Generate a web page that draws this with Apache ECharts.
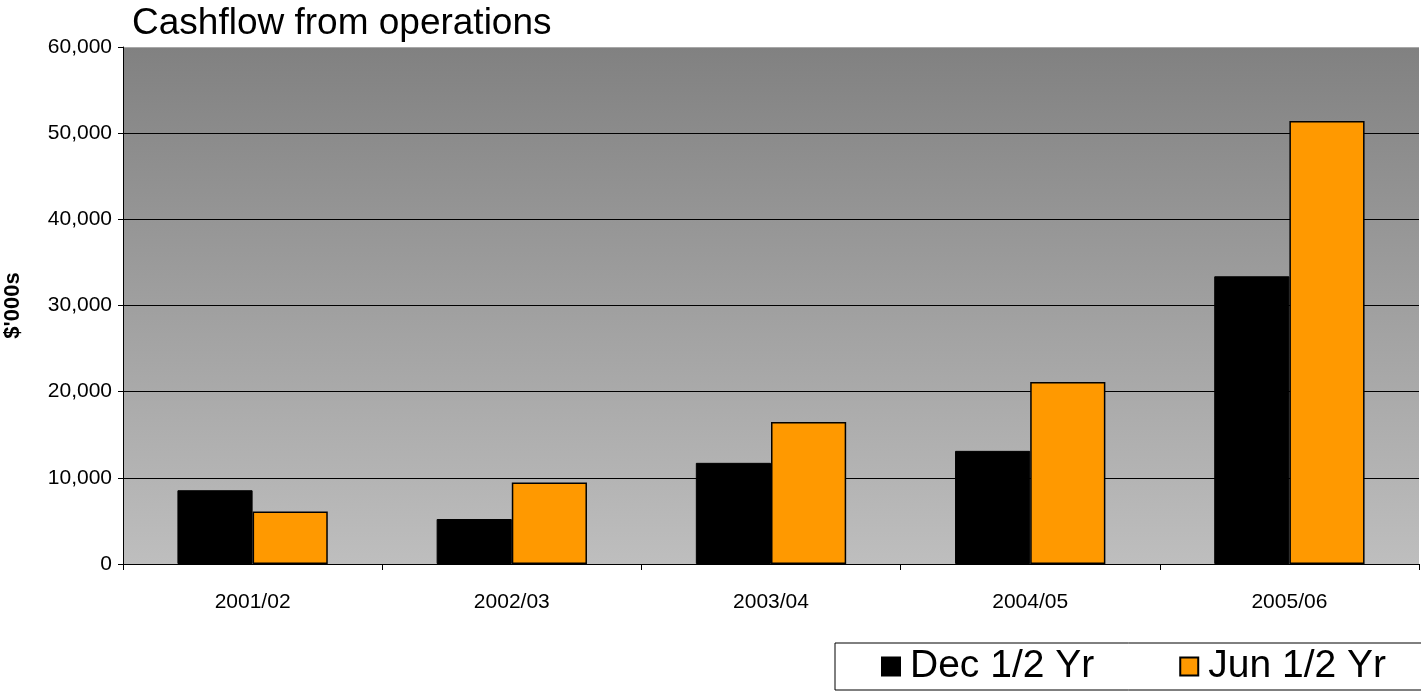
<!DOCTYPE html>
<html>
<head>
<meta charset="utf-8">
<script src="https://cdn.jsdelivr.net/npm/echarts@6/dist/echarts.min.js"></script>
<style>
  html, body { margin: 0; padding: 0; background: #fff; }
  #chart { width: 1421px; height: 693px; }
</style>
</head>
<body>
<div id="chart"></div>
<script>
// Half-year operating cashflow, $'000s
const categories = ['2001/02', '2002/03', '2003/04', '2004/05', '2005/06'];
const decHalf = [8560, 5220, 11740, 13130, 33390];
const junHalf = [6080, 9450, 16470, 21130, 51400];
const seriesNames = ['Dec 1/2 Yr', 'Jun 1/2 Yr'];
const yTicks = { min: 0, max: 60000, interval: 10000 };

const FONT = 'Liberation Sans, Arial, sans-serif';
const chart = echarts.init(document.getElementById('chart'));

chart.setOption({
  animation: false,
  backgroundColor: '#ffffff',
  title: {
    text: 'Cashflow from operations',
    left: 127,
    top: 0,
    textStyle: { fontFamily: FONT, fontSize: 37, fontWeight: 'normal', color: '#000' }
  },
  grid: {
    left: 123,
    right: 2,
    top: 47,
    bottom: 129,
    outerBoundsMode: 'none',
    show: true,
    borderWidth: 0,
    backgroundColor: {
      type: 'linear', x: 0, y: 0, x2: 0, y2: 1,
      colorStops: [
        { offset: 0, color: '#818181' },
        { offset: 1, color: '#bebebe' }
      ]
    }
  },
  legend: {
    left: 835,
    top: 643,
    width: 700,
    padding: [4, 80, 4, 46],
    borderColor: '#000',
    borderWidth: 1,
    itemWidth: 18,
    itemHeight: 18,
    itemGap: 85,
    icon: 'rect',
    textStyle: { fontFamily: FONT, fontSize: 39, color: '#000', padding: [0, 0, 0, 5] },
    data: seriesNames
  },
  xAxis: {
    type: 'category',
    data: categories,
    axisLine: { lineStyle: { color: '#000', width: 1 } },
    axisTick: { show: true, length: 6, lineStyle: { color: '#000' } },
    axisLabel: { fontFamily: FONT, fontSize: 21, color: '#000', margin: 28 }
  },
  yAxis: {
    type: 'value',
    min: yTicks.min,
    max: yTicks.max,
    interval: yTicks.interval,
    name: "$'000s",
    nameLocation: 'middle',
    nameGap: 99,
    nameTextStyle: { fontFamily: FONT, fontSize: 22, fontWeight: 'bold', color: '#000' },
    axisLine: { show: true, lineStyle: { color: '#000', width: 1 } },
    axisTick: { show: true, length: 5, lineStyle: { color: '#000' } },
    axisLabel: {
      fontFamily: FONT, fontSize: 21, color: '#000', margin: 11,
      formatter: v => v.toLocaleString('en-US')
    },
    splitLine: {
      show: true,
      lineStyle: { color: ['#000', '#000', '#000', '#000', '#000', '#000', '#a8a8a8'], width: 1 }
    }
  },
  series: [
    {
      name: seriesNames[0],
      type: 'bar',
      data: decHalf,
      barGap: '0%',
      barCategoryGap: '42%',
      itemStyle: { color: '#000000', borderColor: '#000', borderWidth: 1 }
    },
    {
      name: seriesNames[1],
      type: 'bar',
      data: junHalf,
      barGap: '0%',
      barCategoryGap: '42%',
      itemStyle: { color: '#ff9900', borderColor: '#000', borderWidth: 1.5 }
    }
  ]
});
</script>
</body>
</html>
